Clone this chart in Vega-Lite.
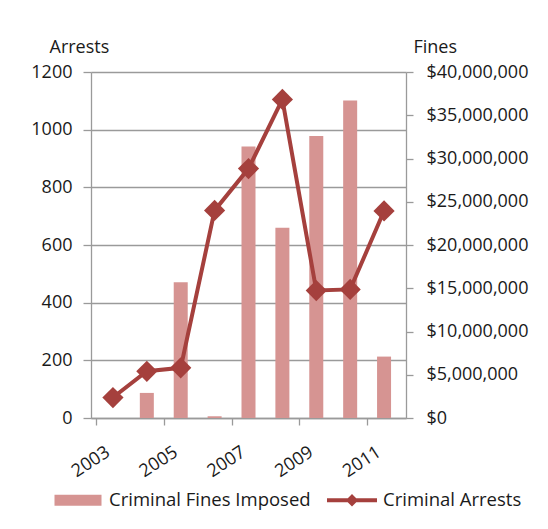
{
  "$schema": "https://vega.github.io/schema/vega-lite/v6.json",
  "autosize": {"type": "none"},
  "padding": {"left": 91, "top": 72, "right": 142, "bottom": 111},
  "width": 315,
  "height": 346,
  "background": "white",
  "config": {
    "font": "Open Sans",
    "view": {"stroke": null},
    "axis": {
      "labelFont": "Open Sans",
      "titleFont": "Open Sans",
      "labelFontSize": 18,
      "titleFontSize": 18,
      "titleFontWeight": "normal",
      "labelColor": "#1a1a1a",
      "titleColor": "#1a1a1a",
      "domainColor": "#9a9a9a",
      "tickColor": "#9a9a9a",
      "gridColor": "#9a9a9a",
      "domainWidth": 1.3,
      "tickWidth": 1.3,
      "gridWidth": 1.3
    },
    "legend": {
      "labelFont": "Open Sans",
      "labelFontSize": 18.5,
      "labelColor": "#1a1a1a",
      "labelLimit": 400
    }
  },
  "data": {
    "values": [
      {"year": 2003, "arrests": 71, "fines": 0},
      {"year": 2004, "arrests": 162, "fines": 2900000},
      {"year": 2005, "arrests": 174, "fines": 15700000},
      {"year": 2006, "arrests": 720, "fines": 200000},
      {"year": 2007, "arrests": 865, "fines": 31400000},
      {"year": 2008, "arrests": 1105, "fines": 22000000},
      {"year": 2009, "arrests": 442, "fines": 32600000},
      {"year": 2010, "arrests": 446, "fines": 36700000},
      {"year": 2011, "arrests": 718, "fines": 7100000}
    ]
  },
  "layer": [
    {
      "mark": {"type": "bar", "size": 14},
      "encoding": {
        "x": {
          "field": "year",
          "type": "quantitative",
          "scale": {"domain": [2002.5, 2011.5], "nice": false, "zero": false},
          "axis": {
            "title": null,
            "values": [2002.5, 2003.5, 2004.5, 2005.5, 2006.5, 2007.5, 2008.5, 2009.5, 2010.5, 2011.5],
            "labelExpr": "(datum.value + 0.5) % 2 == 1 ? toString(datum.value + 0.5) : ''",
            "labelOffset": 7,
            "labelAngle": -33,
            "labelAlign": "right",
            "labelBaseline": "top",
            "labelPadding": 18,
            "labelFlush": false,
            "labelOverlap": false,
            "labelBound": false,
            "tickSize": 7,
            "grid": false
          }
        },
        "y": {
          "field": "fines",
          "type": "quantitative",
          "scale": {"domain": [0, 40000000], "nice": false},
          "axis": {
            "orient": "right",
            "title": "Fines",
            "titleAngle": 0,
            "titleAlign": "left",
            "titleBaseline": "alphabetic",
            "titleX": 7,
            "titleY": -20,
            "values": [0, 5000000, 10000000, 15000000, 20000000, 25000000, 30000000, 35000000, 40000000],
            "format": "$,.0f",
            "grid": false,
            "tickSize": 7,
            "labelPadding": 13
          }
        },
        "color": {
          "datum": "Criminal Fines Imposed",
          "scale": {
            "domain": ["Criminal Fines Imposed", "Criminal Arrests"],
            "range": ["#D69492", "#A5403D"]
          },
          "legend": {
            "title": null,
            "orient": "none",
            "direction": "horizontal",
            "legendX": -38,
            "legendY": 403,
            "padding": 0,
            "columnPadding": 16,
            "labelOffset": 6,
            "labelLimit": 400,
            "symbolSize": 2500,
            "symbolStrokeWidth": 0,
            "encode": {
              "symbols": {
                "update": {
                  "shape": {"signal": "datum.value === 'Criminal Arrests' ? 'M-1,-0.08H1V0.08H-1Z M0,-0.25L0.25,0L0,0.25L-0.25,0Z' : 'M-0.94,-0.22H0.94V0.22H-0.94Z'"},
                  "fill": {"signal": "datum.value === 'Criminal Arrests' ? '#A5403D' : '#D69492'"},
                  "strokeWidth": {"value": 0},
                  "opacity": {"value": 1},
                  "fillOpacity": {"value": 1}
                }
              }
            }
          }
        }
      }
    },
    {
      "mark": {
        "type": "line",
        "strokeWidth": 4,
        "point": {"shape": "diamond", "size": 450, "filled": true, "opacity": 1}
      },
      "encoding": {
        "x": {"field": "year", "type": "quantitative"},
        "y": {
          "field": "arrests",
          "type": "quantitative",
          "scale": {"domain": [0, 1200], "nice": false},
          "axis": {
            "orient": "left",
            "title": "Arrests",
            "titleAngle": 0,
            "titleAlign": "left",
            "titleBaseline": "alphabetic",
            "titleX": -42,
            "titleY": -20,
            "values": [0, 200, 400, 600, 800, 1000, 1200],
            "format": "d",
            "grid": true,
            "tickSize": 8,
            "labelPadding": 11
          }
        },
        "color": {"datum": "Criminal Arrests"}
      }
    }
  ],
  "resolve": {"scale": {"y": "independent"}}
}
